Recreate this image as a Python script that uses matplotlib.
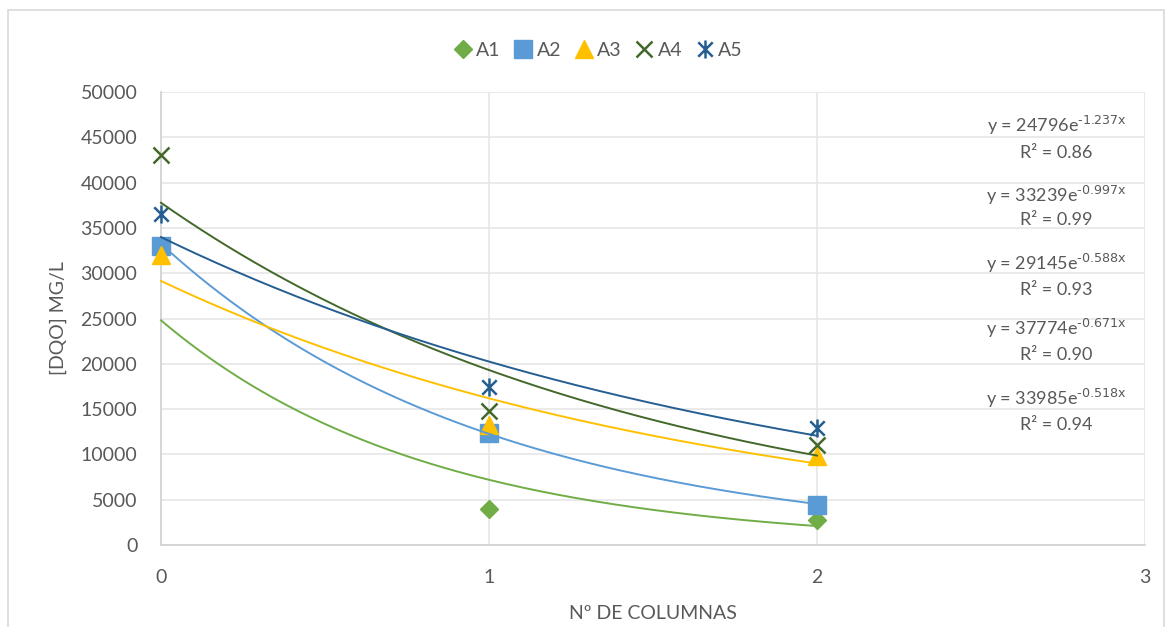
import numpy as np
import matplotlib.pyplot as plt
from matplotlib.path import Path
from matplotlib.patches import Rectangle

plt.rcParams['font.family'] = ['Lato', 'DejaVu Sans']

# data
x = [0, 1, 2]
series = ['A1', 'A2', 'A3', 'A4', 'A5']
A1 = [33000, 4000, 2800]
A2 = [33000, 12400, 4450]
A3 = [32000, 13300, 9800]
A4 = [43000, 14800, 11000]
A5 = [36500, 17400, 12900]

# exponential trendlines y = a*e^(b*x) as shown on the chart
trend_a = [24796, 33239, 29145, 37774, 33985]
trend_b = [-1.237, -0.997, -0.588, -0.671, -0.518]
trend_r2 = ['0.86', '0.99', '0.93', '0.90', '0.94']

colors = ['#70AD47', '#5B9BD5', '#FFC000', '#43682B', '#255E91']
txt = '#595959'
grid = '#E6E6E6'

# excel style "star" marker: an x with a vertical bar
star = Path([(-1, -1), (1, 1), (-1, 1), (1, -1), (0, -1.25), (0, 1.25)],
            [Path.MOVETO, Path.LINETO, Path.MOVETO, Path.LINETO, Path.MOVETO, Path.LINETO])
marker_kw = [
    dict(marker='D', ms=9, mec=colors[0], mfc=colors[0]),
    dict(marker='s', ms=12.5, mec=colors[1], mfc=colors[1]),
    dict(marker='^', ms=13, mec=colors[2], mfc=colors[2]),
    dict(marker='x', ms=12, mec=colors[3], mew=1.8),
    dict(marker=star, ms=13, mec=colors[4], mew=1.8),
]

fig = plt.figure(figsize=(11.75, 6.27), dpi=100)
ax = fig.add_axes([161/1175, 1-545/627, 984/1175, 453/627])

# chart border
fig.patches.append(Rectangle((8/1175, -0.01), 1156/1175, 1-10/627+0.01, transform=fig.transFigure,
                             fill=False, ec='#D9D9D9', lw=1.2))

for i, (name, ys) in enumerate(zip(series, [A1, A2, A3, A4, A5])):
    ax.plot(x, ys, ls='none', label=name, zorder=3, clip_on=False, **marker_kw[i])

xs = np.linspace(0, 2, 200)
for i in range(len(series)):
    ax.plot(xs, trend_a[i]*np.exp(trend_b[i]*xs), color=colors[i], lw=1.4, zorder=4, clip_on=False)

# trendline labels
eq_y = [46360, 38630, 31130, 23950, 16230]
r2_y = [43270, 35870, 28150, 20970, 13250]
for i in range(len(series)):
    ax.text(2.73, eq_y[i], 'y = %de$^{\\text{%sx}}$' % (trend_a[i], trend_b[i]),
            ha='center', va='center', fontsize=13, color=txt, zorder=5)
    ax.text(2.73, r2_y[i], 'R² = ' + trend_r2[i], ha='center', va='center', fontsize=13,
            color=txt, zorder=5)

ax.set_xlim(0, 3)
ax.set_ylim(0, 50000)
ax.set_xticks([0, 1, 2, 3])
ax.set_yticks(range(0, 50001, 5000))
ax.grid(True, color=grid, lw=1.2, zorder=0)
ax.set_axisbelow(True)
for s in ['top', 'right']:
    ax.spines[s].set_visible(False)
for s in ['left', 'bottom']:
    ax.spines[s].set_color('#D0D0D0')
    ax.spines[s].set_linewidth(1.2)
ax.tick_params(length=0, labelsize=14, labelcolor=txt)
ax.tick_params(axis='y', pad=17)
ax.tick_params(axis='x', pad=17)

ax.set_xlabel('Nº DE COLUMNAS', fontsize=14, color=txt, labelpad=14)
ax.set_ylabel('[DQO] MG/L', fontsize=14, color=txt, labelpad=10)

ax.legend(loc='lower center', bbox_to_anchor=(0.445, 1.035), ncol=5, frameon=False,
          fontsize=14, labelcolor=txt, handlelength=0.8, handletextpad=0.3, columnspacing=0.75)

fig.savefig('out.png', dpi=100)
